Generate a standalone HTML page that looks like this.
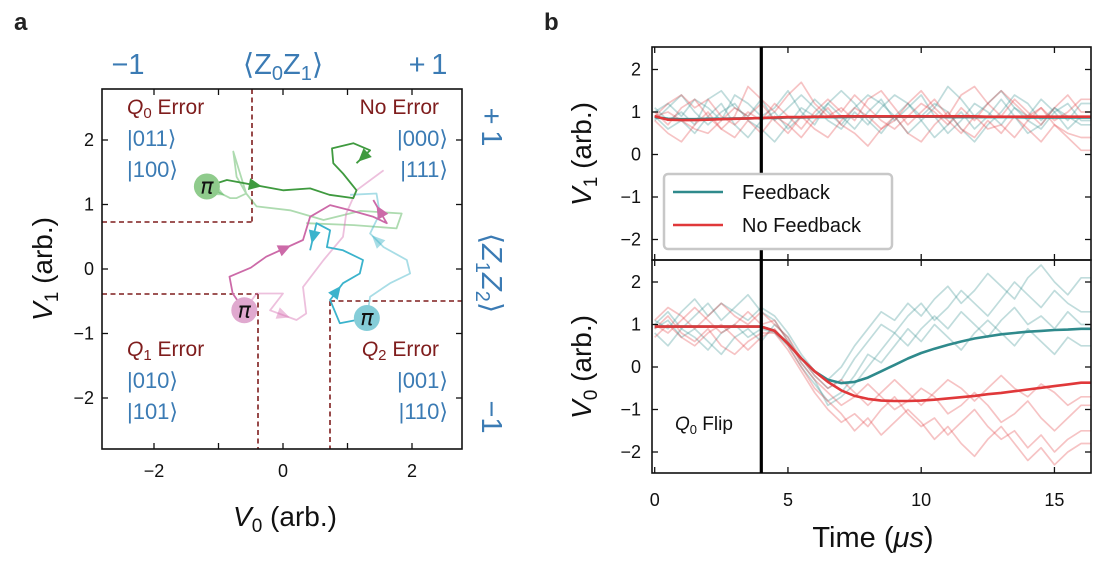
<!DOCTYPE html>
<html><head><meta charset="utf-8">
<style>
html,body{margin:0;padding:0;background:#fff;}
svg{display:block;font-family:"Liberation Sans",Arial,sans-serif;}
</style></head>
<body>
<svg id="fig" width="1107" height="571" viewBox="0 0 1107 571" xmlns="http://www.w3.org/2000/svg">
<defs>
<clipPath id="clipA"><rect x="102" y="89" width="360" height="360"/></clipPath>
<clipPath id="clipT"><rect x="652" y="47" width="439" height="213"/></clipPath>
<clipPath id="clipB"><rect x="652" y="260" width="439" height="213"/></clipPath>
</defs>
<text x="14" y="30" font-size="24" font-weight="bold" fill="#222">a</text>
<text x="544" y="30" font-size="24" font-weight="bold" fill="#222">b</text>
<g id="gA"></g>
<g id="gB"></g>
</svg>
<script>
// ---------- Panel a data (V0, V1) ----------
const greenDarkX = [-1.18,-0.87,0.00,0.42,0.72,1.09,1.14,0.93,0.78,0.76,1.09,1.35,1.14];
const greenDarkY = [1.28,1.38,1.22,1.25,1.15,1.10,1.22,1.48,1.64,1.87,1.95,1.84,1.64];
const greenLightX = [-1.18,-0.82,-0.72,-0.57,-0.77,-0.72,-0.57,-0.41,0.11,0.63,1.20,1.84,1.76,1.10,0.36];
const greenLightY = [1.28,1.10,1.10,1.17,1.82,1.43,1.17,0.97,0.91,0.76,0.90,0.86,0.63,0.68,0.71];
const pinkDarkX = [-0.60,-0.78,-0.83,-0.50,-0.26,0.31,0.42,0.73,1.04,1.40,1.61,1.40];
const pinkDarkY = [-0.64,-0.38,-0.12,0.02,0.19,0.45,0.81,0.99,0.91,0.81,0.71,1.07];
const pinkLightX = [-0.60,-0.41,0.00,-0.20,0.21,0.36,0.31,0.63,0.93,0.98,1.14,1.56];
const pinkLightY = [-0.64,-0.38,-0.38,-0.64,-0.79,-0.69,-0.28,0.14,0.50,0.86,1.22,1.53];
const cyanDarkX = [1.30,0.88,0.73,0.93,1.19,1.24,0.93,0.68,0.73,0.52,0.42];
const cyanDarkY = [-0.76,-0.84,-0.48,-0.22,-0.07,0.14,0.29,0.34,0.60,0.71,0.29];
const cyanLightX = [1.30,1.35,1.66,1.97,1.92,1.56,1.35,1.50,1.45,1.04];
const cyanLightY = [-0.76,-0.43,-0.22,-0.07,0.14,0.34,0.55,0.86,1.17,1.15];
const aTicks = [-2,-1,0,1,2];
const aTickLabels = ["\u22122","","0","","2"];
const aYTickLabels = ["\u22122","\u22121","0","1","2"];

// ---------- Panel b data ----------
const tGrid = [0,0.5,1,1.5,2,2.5,3,3.5,4,4.5,5,5.5,6,6.5,7,7.5,8,8.5,9,9.5,10,10.5,11,11.5,12,12.5,13,13.5,14,14.5,15,15.5,16];
const topTeal1 = [1.0,1.2,0.9,1.3,1.1,0.8,1.4,1.2,0.9,1.1,1.5,1.0,0.7,1.2,0.9,0.6,1.0,1.3,0.8,1.1,1.4,0.9,0.5,0.8,1.2,1.0,0.7,1.1,0.9,1.3,1.0,0.6,0.9];
const topTeal2 = [0.9,0.6,0.8,0.5,0.9,1.2,0.7,0.4,0.8,1.0,0.6,0.9,1.3,1.0,0.7,1.1,1.4,1.2,0.9,0.5,0.8,1.1,1.6,1.3,0.9,1.2,1.5,1.1,0.8,0.6,1.0,1.2,0.8];
const topTeal3 = [0.8,1.1,1.4,1.0,0.7,1.0,1.2,0.8,0.6,0.3,0.7,1.1,0.9,1.2,1.5,1.2,0.8,0.5,0.9,1.2,0.8,0.4,0.7,1.0,0.6,0.9,1.3,0.9,0.5,0.7,1.1,0.8,1.2];
const topTeal4 = [1.1,0.8,1.0,0.7,1.3,1.5,1.1,0.9,1.3,0.8,1.1,1.4,1.1,0.8,0.6,1.0,0.7,1.1,1.4,1.2,0.9,1.2,1.0,0.6,0.3,0.7,1.0,1.4,1.2,0.8,1.1,0.9,0.7];
const topRed1 = [1.0,0.7,1.1,1.3,0.9,0.6,0.9,1.6,1.3,1.0,1.4,1.7,1.2,0.9,1.1,0.8,1.3,1.5,1.1,0.7,1.0,1.3,0.9,1.4,1.6,1.2,0.9,1.3,1.0,0.7,1.1,1.4,1.0];
const topRed2 = [0.8,0.5,0.3,0.7,1.0,0.6,0.4,0.8,0.5,0.9,0.7,0.4,0.8,1.1,0.7,0.5,0.2,0.6,0.9,0.5,0.3,0.7,1.0,0.6,0.4,0.8,0.5,0.9,0.6,0.3,0.7,0.4,0.1];
const topRed3 = [0.9,1.2,1.4,1.1,1.3,0.9,0.7,1.0,0.8,1.2,0.9,0.6,1.0,1.3,1.0,1.4,1.1,0.8,0.6,0.9,1.2,1.0,0.7,1.1,0.8,1.2,1.5,1.2,0.9,1.1,0.8,1.0,1.3];
const topRed4 = [0.9,1.0,0.8,0.6,0.5,0.8,1.1,0.9,1.2,0.8,0.5,0.9,0.6,0.4,0.8,1.1,0.9,0.6,0.8,1.2,1.5,1.1,0.8,0.5,0.9,0.6,0.7,0.4,0.8,1.1,0.7,0.5,0.4];
const botTeal1 = [1.0,1.3,0.9,1.2,1.5,1.1,1.4,1.7,1.3,1.1,0.6,0.2,-0.2,-0.5,-0.3,0.2,0.6,1.0,0.8,1.2,1.5,1.1,1.4,1.8,1.5,1.2,1.6,2.0,1.7,1.4,1.8,1.5,1.3];
const botTeal2 = [0.8,0.5,0.9,0.7,0.4,0.8,1.0,0.7,0.9,0.8,0.5,0.0,-0.4,-0.8,-0.6,-0.2,0.3,0.1,0.5,0.9,0.6,1.0,0.7,0.4,0.8,1.1,0.8,0.5,0.9,0.6,0.3,0.7,0.5];
const botTeal3 = [1.1,0.9,1.3,1.6,1.2,1.5,1.3,1.1,1.4,1.2,0.8,0.3,-0.1,-0.3,0.0,0.5,0.9,1.3,1.1,1.5,1.2,1.6,1.9,1.5,1.8,2.2,1.9,1.6,2.1,2.4,2.0,1.7,2.1];
const botTeal4 = [0.9,1.1,0.7,0.9,0.6,0.3,0.7,0.9,0.6,1.0,0.7,0.1,-0.3,-0.9,-0.7,-0.4,0.0,0.4,0.8,0.5,0.9,1.2,0.9,1.3,1.0,0.7,1.1,1.4,1.0,1.2,0.9,1.3,1.0];
const botRed1 = [1.0,0.8,1.1,1.4,1.1,0.8,1.0,1.3,1.0,1.1,0.6,0.1,-0.3,-0.6,-0.9,-0.7,-0.4,-0.7,-1.0,-0.8,-0.5,-0.7,-1.1,-0.9,-0.6,-0.9,-1.3,-1.1,-0.8,-1.2,-1.5,-1.2,-0.9];
const botRed2 = [0.9,1.2,0.8,0.6,0.9,0.5,0.3,0.6,0.8,0.8,0.4,-0.1,-0.6,-1.0,-1.3,-1.1,-1.4,-1.0,-0.7,-1.1,-1.4,-1.2,-1.6,-1.3,-1.0,-1.4,-1.7,-1.5,-1.9,-1.6,-2.0,-1.7,-1.5];
const botRed3 = [1.1,1.4,1.2,0.9,1.2,1.5,1.2,1.0,1.3,1.0,0.7,0.2,-0.2,-0.5,-0.3,-0.6,-0.9,-0.6,-0.3,-0.6,-0.9,-0.6,-0.3,-0.5,-0.8,-0.5,-0.2,-0.5,-0.7,-0.4,-0.6,-0.9,-0.7];
const botRed4 = [0.7,1.0,0.7,0.5,0.8,1.0,0.7,0.4,0.7,0.9,0.5,0.0,-0.5,-0.8,-1.1,-1.5,-1.2,-1.6,-1.3,-1.0,-1.3,-1.7,-1.4,-1.8,-2.1,-1.7,-1.4,-1.8,-2.2,-1.9,-2.3,-2.0,-1.8];
const topTealMean = [0.88,0.84,0.83,0.83,0.84,0.84,0.85,0.85,0.86,0.86,0.87,0.87,0.88,0.88,0.88,0.89,0.89,0.89,0.89,0.89,0.89,0.89,0.88,0.88,0.88,0.88,0.88,0.88,0.87,0.87,0.87,0.87,0.87];
const topRedMean = [0.90,0.82,0.81,0.81,0.82,0.83,0.84,0.85,0.86,0.87,0.88,0.88,0.89,0.89,0.90,0.90,0.90,0.90,0.90,0.90,0.90,0.90,0.90,0.90,0.90,0.89,0.89,0.89,0.89,0.89,0.89,0.89,0.89];
const botTealMean = [0.95,0.95,0.95,0.95,0.95,0.95,0.95,0.95,0.95,0.85,0.55,0.2,-0.1,-0.3,-0.38,-0.35,-0.25,-0.1,0.05,0.2,0.33,0.43,0.52,0.6,0.67,0.72,0.77,0.8,0.83,0.85,0.87,0.88,0.9];
const botRedMean = [0.95,0.95,0.95,0.95,0.95,0.95,0.95,0.95,0.95,0.85,0.55,0.2,-0.1,-0.35,-0.55,-0.68,-0.75,-0.79,-0.8,-0.8,-0.79,-0.77,-0.74,-0.71,-0.68,-0.64,-0.61,-0.57,-0.53,-0.49,-0.45,-0.41,-0.37];
const flipTime = 4.0;
const bXTicks = [0,5,10,15];
const bYTicks = [-2,-1,0,1,2];
const bYTickLabels = ["\u22122","\u22121","0","1","2"];

const NS = "http://www.w3.org/2000/svg";
function mk(tag, attrs, parent, txt){
  const e = document.createElementNS(NS, tag);
  for (const k in attrs) e.setAttribute(k, attrs[k]);
  if (txt !== undefined) e.textContent = txt;
  parent.appendChild(e);
  return e;
}
const BLUE = "#3b7bb4", DRED = "#7f1d1d", TEAL = "#2f8a8c", RED = "#e0383a";

// ---------- Panel a ----------
const gA = document.getElementById('gA');
const ax = v => 283 + v * 64.5;
const ay = v => 269 - v * 64.5;
const pa = mk('g', {'clip-path':'url(#clipA)'}, gA);
function dash(x1,y1,x2,y2,name){
  const l = mk('line',{x1:x1,y1:y1,x2:x2,y2:y2,stroke:DRED,'stroke-width':1.6,'stroke-dasharray':'5,3.5'},pa);
  
  
}
dash(252,89,252,222,'q0-boundary-v'); dash(102,222,252,222,'q0-boundary-h');
dash(102,294,258,294,'q1-boundary-h'); dash(258,294,258,449,'q1-boundary-v');
dash(330,301,462,301,'q2-boundary-h'); dash(330,301,330,449,'q2-boundary-v');

function traj(xs, ys, color, op, name, arrows){
  const d = xs.map((x,i)=>(i?'L':'M')+ax(x).toFixed(1)+','+ay(ys[i]).toFixed(1)).join(' ');
  const p = mk('path',{d:d,fill:'none',stroke:color,'stroke-width':1.8,'stroke-opacity':op,'stroke-linejoin':'round'},pa);
  
  
  arrows.forEach(i=>{
    const x1=ax(xs[i]),y1=ay(ys[i]),x2=ax(xs[i+1]),y2=ay(ys[i+1]);
    const mx=(x1+x2)/2,my=(y1+y2)/2, a=Math.atan2(y2-y1,x2-x1)*180/Math.PI;
    const h = mk('path',{d:'M7,0 L-6,-6 L-6,6 Z',fill:color,'fill-opacity':op,transform:'translate('+mx+','+my+') rotate('+a+')'},pa);
    
    
  });
}
traj(greenLightX, greenLightY, '#4caf50', 0.45, 'green-trajectory-light', [0]);
traj(pinkLightX, pinkLightY, '#d873b4', 0.45, 'pink-trajectory-light', [3]);
traj(cyanLightX, cyanLightY, '#3fb4c8', 0.45, 'cyan-trajectory-light', [5]);
traj(greenDarkX, greenDarkY, '#3f9a3f', 1, 'green-trajectory', [1,11]);
traj(pinkDarkX, pinkDarkY, '#cc6aa8', 1, 'pink-trajectory', [4,10]);
traj(cyanDarkX, cyanDarkY, '#3bb3cc', 1, 'cyan-trajectory', [2,9]);

function piDot(x,y,color,name){
  const g = mk('g',{},gA);
  
  
  mk('circle',{cx:ax(x),cy:ay(y),r:13,fill:color},g);
  mk('text',{x:ax(x),y:ay(y)+7,'font-size':22,'font-style':'italic','text-anchor':'middle',fill:'#111','font-family':'DejaVu Sans, sans-serif'},g,'\u03c0');
}
piDot(greenDarkX[0],greenDarkY[0],'#8fcb8c','pi-pulse-green');
piDot(pinkDarkX[0],pinkDarkY[0],'#e0a9cf','pi-pulse-pink');
piDot(cyanDarkX[0],cyanDarkY[0],'#85cdd8','pi-pulse-cyan');

mk('rect',{x:102,y:89,width:360,height:360,fill:'none',stroke:'#111','stroke-width':1.6},gA);
aTicks.forEach((v,i)=>{
  mk('line',{x1:ax(v),y1:449,x2:ax(v),y2:443,stroke:'#111','stroke-width':1.3},gA);
  mk('line',{x1:ax(v),y1:89,x2:ax(v),y2:95,stroke:'#111','stroke-width':1.3},gA);
  mk('line',{x1:102,y1:ay(v),x2:108,y2:ay(v),stroke:'#111','stroke-width':1.3},gA);
  mk('line',{x1:462,y1:ay(v),x2:456,y2:ay(v),stroke:'#111','stroke-width':1.3},gA);
  if (aTickLabels[i]) { const t = mk('text',{x:ax(v),y:477,'font-size':18,'text-anchor':'middle',fill:'#111'},gA,aTickLabels[i]);
      }
  const t2 = mk('text',{x:94,y:ay(v)+6,'font-size':18,'text-anchor':'end',fill:'#111'},gA,aYTickLabels[i]);
   
});
gA.insertAdjacentHTML('beforeend',`
<text x="285" y="526" font-size="28" text-anchor="middle" fill="#111"><tspan font-style="italic">V</tspan><tspan font-size="19" dy="6">0</tspan><tspan dy="-6"> (arb.)</tspan></text>
<text transform="translate(52,269) rotate(-90)" font-size="28" text-anchor="middle" fill="#111"><tspan font-style="italic">V</tspan><tspan font-size="19" dy="6">1</tspan><tspan dy="-6"> (arb.)</tspan></text>
<g fill="${BLUE}" font-size="29" text-anchor="middle">
<text x="128" y="74">\u22121</text>
<text x="283" y="74">\u27e8Z<tspan font-size="20" dy="6">0</tspan><tspan dy="-6">Z</tspan><tspan font-size="20" dy="6">1</tspan><tspan dy="-6">\u27e9</tspan></text>
<text x="428" y="74">+\u20091</text>
<text transform="translate(482,127) rotate(90)">+\u20091</text>
<text transform="translate(482,273) rotate(90)">\u27e8<tspan font-style="italic">Z</tspan><tspan font-size="20" dy="6">1</tspan><tspan dy="-6" font-style="italic">Z</tspan><tspan font-size="20" dy="6">2</tspan><tspan dy="-6">\u27e9</tspan></text>
<text transform="translate(482,417) rotate(90)">\u22121</text>
</g>
<g font-size="21">
<text x="127" y="114" fill="${DRED}"><tspan font-style="italic">Q</tspan><tspan font-size="15" dy="4">0</tspan><tspan dy="-4"> Error</tspan></text>
<text x="127" y="146" fill="${BLUE}" font-size="22">|011\u27e9</text>
<text x="127" y="177" fill="${BLUE}" font-size="22">|100\u27e9</text>
<text x="439" y="114" fill="${DRED}" text-anchor="end">No Error</text>
<text x="448" y="146" fill="${BLUE}" font-size="22" text-anchor="end">|000\u27e9</text>
<text x="448" y="177" fill="${BLUE}" font-size="22" text-anchor="end">|111\u27e9</text>
<text x="127" y="356" fill="${DRED}"><tspan font-style="italic">Q</tspan><tspan font-size="15" dy="4">1</tspan><tspan dy="-4"> Error</tspan></text>
<text x="127" y="388" fill="${BLUE}" font-size="22">|010\u27e9</text>
<text x="127" y="419" fill="${BLUE}" font-size="22">|101\u27e9</text>
<text x="439" y="356" fill="${DRED}" text-anchor="end"><tspan font-style="italic">Q</tspan><tspan font-size="15" dy="4">2</tspan><tspan dy="-4"> Error</tspan></text>
<text x="448" y="388" fill="${BLUE}" font-size="22" text-anchor="end">|001\u27e9</text>
<text x="448" y="419" fill="${BLUE}" font-size="22" text-anchor="end">|110\u27e9</text>
</g>`);

// ---------- Panel b ----------
const gB = document.getElementById('gB');
const bx = t => 654.7 + t * 26.65;
const byT = v => 154.5 - v * 42.5;
const byB = v => 367 - v * 42.5;
const pT = mk('g',{'clip-path':'url(#clipT)'},gB);
const pB = mk('g',{'clip-path':'url(#clipB)'},gB);
function series(vals, yf, parent, color, op, w, name){
  const pts = vals.map((v,i)=>[bx(tGrid[i]), yf(v)]);
  pts.push([bx(16.6), yf(vals[vals.length-1])]);
  const d = pts.map((p,i)=>(i?'L':'M')+p[0].toFixed(1)+','+p[1].toFixed(1)).join(' ');
  const p = mk('path',{d:d,fill:'none',stroke:color,'stroke-opacity':op,'stroke-width':w,'stroke-linejoin':'round'},parent);
  
  
}
[topTeal1,topTeal2,topTeal3,topTeal4].forEach(s=>series(s,byT,pT,TEAL,0.3,1.7,'v1-feedback-trace'));
[topRed1,topRed2,topRed3,topRed4].forEach(s=>series(s,byT,pT,RED,0.3,1.7,'v1-nofeedback-trace'));
[botTeal1,botTeal2,botTeal3,botTeal4].forEach(s=>series(s,byB,pB,TEAL,0.3,1.7,'v0-feedback-trace'));
[botRed1,botRed2,botRed3,botRed4].forEach(s=>series(s,byB,pB,RED,0.3,1.7,'v0-nofeedback-trace'));
series(topTealMean,byT,pT,TEAL,1,2.6,'v1-feedback-mean');
series(topRedMean,byT,pT,RED,1,2.6,'v1-nofeedback-mean');
series(botTealMean,byB,pB,TEAL,1,2.6,'v0-feedback-mean');
series(botRedMean,byB,pB,RED,1,2.6,'v0-nofeedback-mean');

function frame(y0,yf,ticksName){
  mk('rect',{x:652,y:y0,width:439,height:213,fill:'none',stroke:'#111','stroke-width':1.6},gB);
  bXTicks.forEach(v=>{
    mk('line',{x1:bx(v),y1:y0+213,x2:bx(v),y2:y0+207,stroke:'#111','stroke-width':1.3},gB);
    mk('line',{x1:bx(v),y1:y0,x2:bx(v),y2:y0+6,stroke:'#111','stroke-width':1.3},gB);
  });
  bYTicks.forEach((v,i)=>{
    mk('line',{x1:652,y1:yf(v),x2:658,y2:yf(v),stroke:'#111','stroke-width':1.3},gB);
    mk('line',{x1:1091,y1:yf(v),x2:1085,y2:yf(v),stroke:'#111','stroke-width':1.3},gB);
    const t = mk('text',{x:641,y:yf(v)+6,'font-size':18,'text-anchor':'end',fill:'#111'},gB,bYTickLabels[i]);
    
    
  });
}
frame(47,byT,'v1-y-tick-label');
frame(260,byB,'v0-y-tick-label');
bXTicks.forEach(v=>{
  const t = mk('text',{x:bx(v),y:506,'font-size':18,'text-anchor':'middle',fill:'#111'},gB,String(v));
  
  
});
const fl = mk('line',{x1:bx(flipTime),y1:47,x2:bx(flipTime),y2:473,stroke:'#000','stroke-width':3.2},gB);



gB.insertAdjacentHTML('beforeend',`
<g>
<rect x="664" y="174" width="228" height="75" rx="4" fill="#fff" stroke="#c8c8c8" stroke-width="2.5"/>
<line x1="673" y1="192" x2="723" y2="192" stroke="${TEAL}" stroke-width="2.6"/>
<text x="742" y="199" font-size="20" fill="#111">Feedback</text>
<line x1="673" y1="225" x2="723" y2="225" stroke="${RED}" stroke-width="2.6"/>
<text x="742" y="232" font-size="20" fill="#111">No Feedback</text>
</g>
<text x="675" y="430" font-size="19" fill="#111"><tspan font-style="italic">Q</tspan><tspan font-size="13" dy="4">0</tspan><tspan dy="-4"> Flip</tspan></text>
<text transform="translate(591,154) rotate(-90)" font-size="28" text-anchor="middle" fill="#111"><tspan font-style="italic">V</tspan><tspan font-size="19" dy="6">1</tspan><tspan dy="-6"> (arb.)</tspan></text>
<text transform="translate(591,367) rotate(-90)" font-size="28" text-anchor="middle" fill="#111"><tspan font-style="italic">V</tspan><tspan font-size="19" dy="6">0</tspan><tspan dy="-6"> (arb.)</tspan></text>
<text x="873" y="547" font-size="29" text-anchor="middle" fill="#111">Time (<tspan font-style="italic">\u03bcs</tspan>)</text>
`);
</script>
</body></html>
